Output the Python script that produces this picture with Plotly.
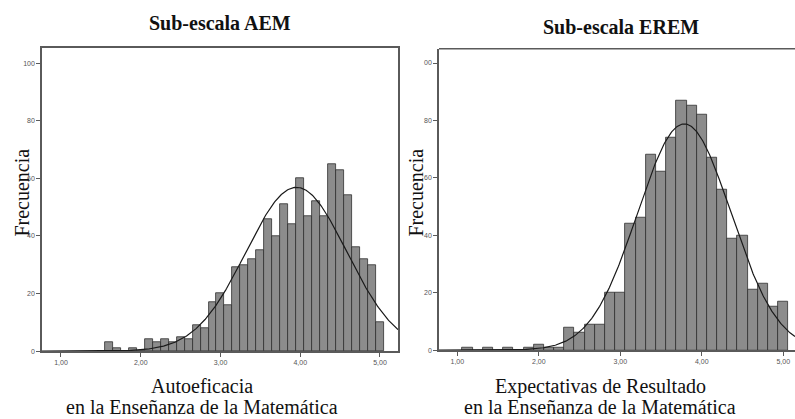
import numpy as np
import plotly.graph_objects as go

# ---------------- data ----------------
aem_centers = [1.6, 1.7, 1.8, 1.9, 2.0, 2.1, 2.2, 2.3, 2.4, 2.5, 2.6, 2.7, 2.8, 2.9,
               3.0, 3.1, 3.2, 3.3, 3.4, 3.5, 3.6, 3.7, 3.8, 3.9, 4.0, 4.1, 4.2, 4.3,
               4.4, 4.5, 4.6, 4.7, 4.8, 4.9, 5.0]
aem_counts = [3, 1, 0, 1, 0, 4, 3, 4, 3, 5, 4, 9, 8, 17, 20, 16, 29, 30, 32, 35,
              46, 40, 51, 44, 60, 47, 52, 47, 65, 63, 54, 36, 32, 30, 10]
aem_binwidth = 0.1

erem_centers = [1.125, 1.25, 1.375, 1.5, 1.625, 1.75, 1.875, 2.0, 2.125, 2.25, 2.375,
                2.5, 2.625, 2.75, 2.875, 3.0, 3.125, 3.25, 3.375, 3.5, 3.625, 3.75,
                3.875, 4.0, 4.125, 4.25, 4.375, 4.5, 4.625, 4.75, 4.875, 5.0]
erem_counts = [1, 0, 1, 0, 1, 0, 1, 2, 1, 1, 8, 6, 9, 9, 20, 20, 44, 46, 68, 62, 74,
               87, 85, 82, 67, 56, 39, 40, 21, 23, 15, 17]
erem_binwidth = 0.125

x_tickvals = [1, 2, 3, 4, 5]
x_ticktext = ["1,00", "2,00", "3,00", "4,00", "5,00"]
y_tickvals = [0, 20, 40, 60, 80, 100]
aem_yticktext = ["0", "20", "40", "60", "80", "100"]
erem_yticktext = ["0", "20", "40", "60", "80", "00"]

title_aem = "Sub-escala AEM"
title_erem = "Sub-escala EREM"
xlab_aem = ["Autoeficacia", "en la Enseñanza de la Matemática"]
xlab_erem = ["Expectativas de Resultado", "en la Enseñanza de la Matemática"]
ylab = "Frecuencia"

# ---------------- layout constants ----------------
W, H = 795, 419
SERIF = "Liberation Serif, Times New Roman, serif"
SANS = "Liberation Sans, Arial, sans-serif"
BAR_FILL = "#8c8c8c"
BAR_LINE = "#2e2e2e"
FRAME = "#5a5a5a"
DY = 2  # vertical nudge in pixels


def px_x(p):
    return p / W


def px_y(p):
    return 1 - (p + DY) / H


def normal_curve(centers, counts, bw, xr):
    c = np.asarray(centers, float)
    n = np.asarray(counts, float)
    N = n.sum()
    mu = (c * n).sum() / N
    sd = np.sqrt(((c - mu) ** 2 * n).sum() / (N - 1))
    xs = np.linspace(xr[0], xr[1], 400)
    ys = N * bw * np.exp(-0.5 * ((xs - mu) / sd) ** 2) / (sd * np.sqrt(2 * np.pi))
    return xs, ys


aem_xrange = [0.762, 5.226]
erem_xrange = [0.775, 5.144]

fig = go.Figure()

fig.add_trace(go.Bar(x=aem_centers, y=aem_counts, width=aem_binwidth,
                     marker=dict(color=BAR_FILL, line=dict(color=BAR_LINE, width=0.8)),
                     xaxis="x", yaxis="y", showlegend=False))
xs, ys = normal_curve(aem_centers, aem_counts, aem_binwidth, aem_xrange)
fig.add_trace(go.Scatter(x=xs, y=ys, mode="lines", line=dict(color="#1a1a1a", width=1.2),
                         xaxis="x", yaxis="y", showlegend=False))

fig.add_trace(go.Bar(x=erem_centers, y=erem_counts, width=erem_binwidth,
                     marker=dict(color=BAR_FILL, line=dict(color=BAR_LINE, width=0.8)),
                     xaxis="x2", yaxis="y2", showlegend=False))
xs2, ys2 = normal_curve(erem_centers, erem_counts, erem_binwidth, erem_xrange)
fig.add_trace(go.Scatter(x=xs2, y=ys2, mode="lines", line=dict(color="#1a1a1a", width=1.2),
                         xaxis="x2", yaxis="y2", showlegend=False))

tickfont = dict(family=SANS, size=7, color="#555555")
common_x = dict(tickvals=x_tickvals, ticktext=x_ticktext, ticks="outside", ticklen=4,
                tickcolor=FRAME, tickfont=tickfont, showgrid=False, zeroline=False,
                showline=True, linecolor=FRAME, linewidth=1.5)
common_y = dict(tickvals=y_tickvals, ticks="outside", ticklen=4, tickcolor=FRAME,
                tickfont=tickfont, showgrid=False, zeroline=False, showline=True,
                linecolor=FRAME, linewidth=1.5)

fig.update_layout(
    width=W, height=H,
    margin=dict(l=0, r=0, t=0, b=0),
    paper_bgcolor="white", plot_bgcolor="white",
    bargap=0,
    xaxis=dict(domain=[px_x(42), px_x(398)], range=aem_xrange, anchor="y", mirror=True, **common_x),
    yaxis=dict(domain=[px_y(351.7), px_y(46.5)], range=[0, 105.2], anchor="x",
               ticktext=aem_yticktext, mirror=True, **common_y),
    xaxis2=dict(domain=[px_x(439), 1.0], range=erem_xrange, anchor="y2", **common_x),
    yaxis2=dict(domain=[px_y(350.7), px_y(47)], range=[0, 105.0], anchor="x2",
                ticktext=erem_yticktext, **common_y),
)

# top border of right panel (right side is cut off in the reference)
fig.add_shape(type="line", xref="x2 domain", yref="y2 domain", x0=0, x1=1, y0=1, y1=1,
              line=dict(color=FRAME, width=1.5))

annos = [
    dict(text="<b>%s</b>" % title_aem, x=px_x(220), y=px_y(21), size=20),
    dict(text="<b>%s</b>" % title_erem, x=px_x(621), y=px_y(25), size=20),
    dict(text=xlab_aem[0], x=px_x(202), y=px_y(387), size=20),
    dict(text=xlab_aem[1], x=px_x(202), y=px_y(408), size=20),
    dict(text=xlab_erem[0], x=px_x(600), y=px_y(387), size=20),
    dict(text=xlab_erem[1], x=px_x(600), y=px_y(408), size=20),
]
for a in annos:
    fig.add_annotation(text=a["text"], x=a["x"], y=a["y"], xref="paper", yref="paper",
                       xanchor="center", yanchor="middle", showarrow=False,
                       font=dict(family=SERIF, size=a["size"], color="#111111"))

for xp in (22, 416):
    fig.add_annotation(text=ylab, x=px_x(xp), y=px_y(192), xref="paper", yref="paper",
                       xanchor="center", yanchor="middle", showarrow=False, textangle=-90,
                       font=dict(family=SERIF, size=20, color="#111111"))

fig.write_html("out.html", config={"displayModeBar": False},
               post_script="document.body.style.margin='0px';document.body.style.overflow='hidden';")
